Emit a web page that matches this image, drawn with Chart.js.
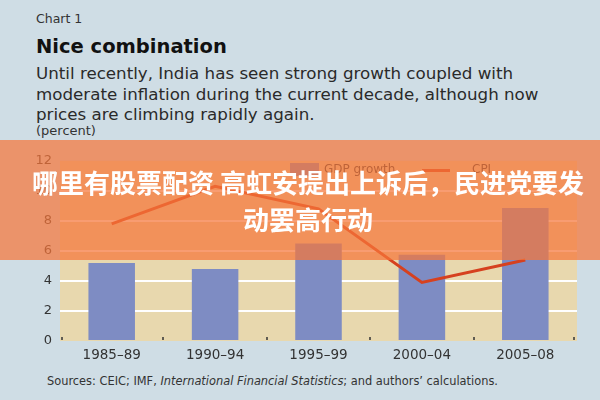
<!DOCTYPE html>
<html lang="en">
<head>
  <meta charset="UTF-8">
  <title>Nice combination</title>
  <style>
    html, body { margin: 0; padding: 0; }
    body { width: 600px; height: 400px; background: #cfdde5; position: relative; overflow: hidden;
           font-family: "DejaVu Sans", sans-serif; color: #222; }
    .t { position: absolute; left: 36px; white-space: nowrap; }
    #kicker { top: 11px; font-size: 12.5px; color: #333; }
    #headline { top: 35px; font-size: 19.5px; font-weight: bold; color: #111; }
    #deck { top: 63px; font-size: 16.7px; line-height: 20.5px; color: #2a2a2a; }
    #unit { top: 123px; font-size: 13px; color: #333; }
    #source { left: 47px; top: 374px; font-size: 11.4px; color: #333; }
    #chartWrap { position: absolute; left: 0; top: 145px; width: 600px; height: 225px; }
    .leg { position: absolute; font-size: 12px; color: #333; }
    #band { position: absolute; left: 8px; top: 140px; width: 600px; height: 120px;
            background: rgba(245, 118, 58, 0.72); color: #fff; text-align: center;
            font-family: "Noto Sans CJK SC", sans-serif; font-weight: bold; font-size: 26px; line-height: 37px;
            padding-top: 23px; box-sizing: border-box; white-space: nowrap; }
    #bandBg { position: absolute; left: 0; top: 140px; width: 600px; height: 120px; background: rgba(245, 118, 58, 0.72); }
  </style>
</head>
<body>
  <div class="t" id="kicker">Chart 1</div>
  <div class="t" id="headline">Nice combination</div>
  <div class="t" id="deck">Until recently, India has seen strong growth coupled with<br>moderate inflation during the current decade, although now<br>prices are climbing rapidly again.</div>
  <div class="t" id="unit">(percent)</div>
  <div id="chartWrap"><canvas id="chart" width="600" height="225"></canvas></div>
  <div class="leg" style="left:290px; top:163px; width:29px; height:13px; background:#7e8cc3;"></div>
  <div class="leg" style="left:324px; top:162px;">GDP growth</div>
  <div class="leg" style="left:422px; top:169px; width:28px; height:3px; background:#d6411f;"></div>
  <div class="leg" style="left:472px; top:162px;">CPI</div>
  <div class="t" id="source">Sources: CEIC; IMF, <i>International Financial Statistics</i>; and authors’ calculations.</div>
  <div id="bandBg"></div>
  <div id="band" style="background:none;">哪里有股票配资 高虹安提出上诉后，民进党要发<br>动罢高行动</div>

  <script src="https://cdn.jsdelivr.net/npm/chart.js"></script>
  <script>
    const periods = ['1985–89', '1990–94', '1995–99', '2000–04', '2005–08'];
    const gdpGrowth = [5.2, 4.8, 6.5, 5.75, 8.85];
    const cpi = [7.8, 10.3, 8.8, 3.9, 5.4];
    const yTicks = [0, 2, 4, 6, 8, 10, 12];

    // beige plot area plus the little boundary ticks along the bottom
    const plotBackground = {
      id: 'plotBackground',
      beforeDraw(chart) {
        const { ctx, chartArea: a } = chart;
        ctx.save();
        ctx.fillStyle = '#e8d8ae';
        ctx.fillRect(a.left, a.top, a.right - a.left, a.bottom - a.top);
        ctx.restore();
      },
      afterDraw(chart) {
        const { ctx, chartArea: a, scales } = chart;
        const x = scales.x;
        const step = x.getPixelForValue(1) - x.getPixelForValue(0);
        ctx.save();
        ctx.strokeStyle = '#333';
        ctx.lineWidth = 1.5;
        for (let i = 0; i <= periods.length; i++) {
          let px = Math.round(x.getPixelForValue(i) - step / 2);
          px += i === 0 ? 2 : (i === periods.length ? -3 : 0);
          ctx.beginPath(); ctx.moveTo(px, a.bottom - 4); ctx.lineTo(px, a.bottom - 1); ctx.stroke();
        }
        ctx.restore();
      }
    };

    const ctx = document.getElementById('chart').getContext('2d');
    new Chart(ctx, {
      data: {
        labels: periods,
        datasets: [
          {
            type: 'line',
            label: 'CPI',
            data: cpi,
            borderColor: '#d6411f',
            borderWidth: 3,
            pointRadius: 0,
            tension: 0,
            order: 0
          },
          {
            type: 'bar',
            label: 'GDP growth',
            data: gdpGrowth,
            backgroundColor: '#7e8cc3',
            barPercentage: 0.45,
            categoryPercentage: 1,
            order: 1
          }
        ]
      },
      options: {
        responsive: false,
        animation: false,
        layout: { padding: { top: 10, right: 23, left: 0, bottom: 0 } },
        plugins: { legend: { display: false }, tooltip: { enabled: false } },
        scales: {
          x: {
            offset: true,
            grid: { display: false },
            border: { display: false },
            ticks: { color: '#333', font: { family: 'DejaVu Sans', size: 13.5 }, padding: -2 },
            afterFit(s) { s.height = 29; }
          },
          y: {
            min: 0,
            max: 12,
            afterBuildTicks(s) { s.ticks = yTicks.map(v => ({ value: v })); },
            grid: {
              color: c => (c.tick.value === 0 || c.tick.value === 12) ? 'rgba(0,0,0,0)' : '#ffffff',
              lineWidth: 2,
              drawTicks: false
            },
            border: { display: false },
            ticks: { color: '#333', font: { family: 'DejaVu Sans', size: 13 }, padding: 8 },
            afterFit(s) { s.width = 60; }
          }
        }
      },
      plugins: [plotBackground]
    });
  </script>
</body>
</html>
